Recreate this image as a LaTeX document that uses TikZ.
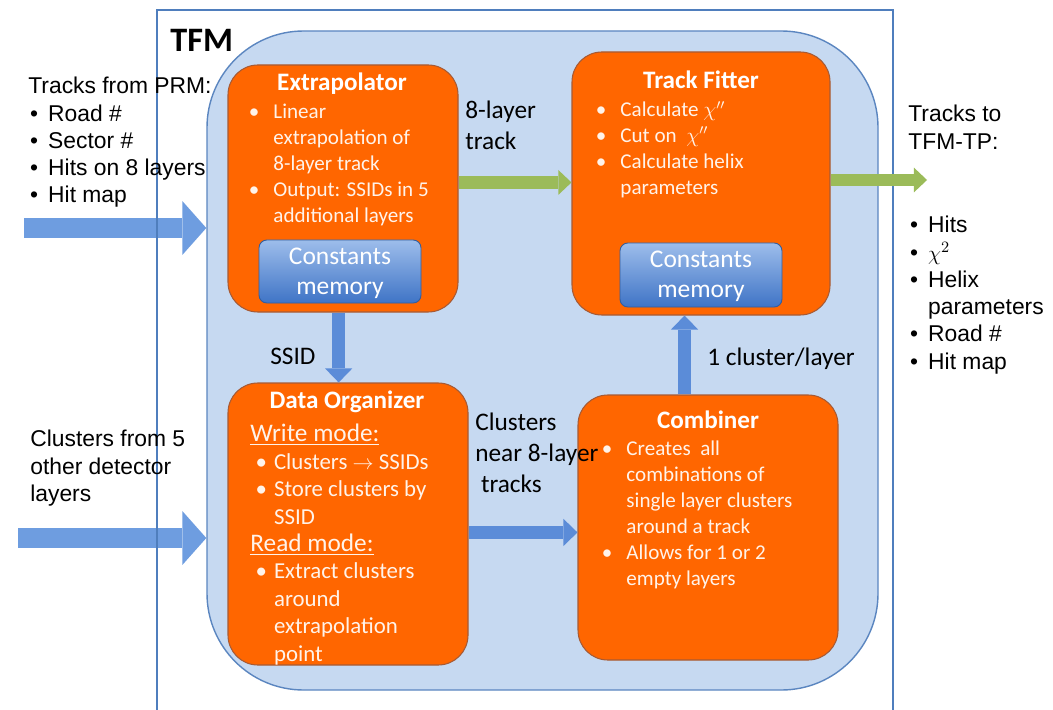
\documentclass[tikz,border=0pt]{standalone}
\usepackage{fontspec}
\setmainfont{Carlito}
\newfontfamily\arialfont{Liberation Sans}
\usetikzlibrary{arrows.meta,fit}

\definecolor{boxorange}{HTML}{FF6600}
\definecolor{boxedge}{HTML}{A65A35}
\definecolor{regionfill}{HTML}{C6D9F1}
\definecolor{regionedge}{HTML}{5B86C0}
\definecolor{framecol}{HTML}{4F7EBD}
\definecolor{arrowgreen}{HTML}{9BBB59}
\definecolor{bigblue}{HTML}{6E9DE0}
\definecolor{smallblue}{HTML}{5B8CD8}
\definecolor{memtop}{HTML}{9DBDEB}
\definecolor{membot}{HTML}{3F74C6}
\definecolor{bodywhite}{HTML}{FFF3EA}

\newcommand{\boxbul}{\makebox[12pt][l]{\hspace*{-2pt}\textbullet}}
\newcommand{\boxind}{\hspace*{12pt}}
\newcommand{\orgbul}{\hspace*{4pt}\makebox[9.5pt][l]{\hspace*{-1pt}\textbullet}}
\newcommand{\orgind}{\hspace*{13.5pt}}
\newcommand{\outbul}{\hspace*{1pt}\makebox[10.3pt][l]{\textbullet}}
\newcommand{\outind}{\hspace*{11.3pt}}

\tikzset{
  region/.style={draw=regionedge, fill=regionfill, line width=0.8pt, rounded corners=55pt, inner sep=0pt},
  procbox/.style={draw=boxedge, fill=boxorange, line width=0.6pt, rounded corners=17pt, inner sep=0pt},
  membox/.style={draw=membot!80!black, top color=memtop, bottom color=membot, line width=0.5pt, rounded corners=4.5pt, inner sep=0pt},
  titletext/.style={font=\bfseries\fontsize{14.3}{17}\selectfont, text=white, inner sep=0pt},
  bodytext/.style={font=\fontsize{12}{14.7}\selectfont, text=bodywhite, align=left, anchor=north west, inner sep=0pt},
  memtext/.style={font=\fontsize{14.5}{17}\selectfont, text=white, align=center, inner sep=0pt},
  labeltext/.style={font=\fontsize{14.4}{17.3}\selectfont, align=left, inner sep=0pt},
  outtext/.style={font=\arialfont\fontsize{13}{15.5}\selectfont, align=left, anchor=north west, inner sep=0pt},
  bigarrow/.style={line width=11.3pt, bigblue, -{Triangle[length=13.6pt, width=30.6pt, line width=0pt]}},
  bluearrow/.style={line width=7.6pt, smallblue, -{Triangle[length=8pt, width=15.5pt, line width=0pt]}},
  greenarrow/.style={line width=7.2pt, arrowgreen, -{Triangle[length=7.5pt, width=14.2pt, line width=0pt]}}
}

\begin{document}
\begin{tikzpicture}[x=0.02cm, y=-0.02cm]
  \useasboundingbox (0,0) rectangle (1053,709);
  \clip (0,0) rectangle (1053,709);
  \fill[white] (0,0) rectangle (1053,709);

  \node[region, fit={(207,31) (878,690)}] (tfm) {};

  \coordinate (prmin) at (24,228);
  \coordinate (clin) at (18,538);
  \draw[bigarrow] (prmin) -- (prmin -| tfm.west);
  \draw[bigarrow] (clin) -- (clin -| tfm.west);
  \draw[framecol, line width=1.4pt] (157,10) rectangle (893,740);

  \node[procbox, fit={(228,65) (458,312)}] (extra) {};
  \node[procbox, fit={(572,52) (830,315)}] (fitter) {};
  \node[procbox, fit={(228,383) (468,665)}] (org) {};
  \node[procbox, fit={(578,395) (838,660)}] (comb) {};
  \node[membox, fit={(259,240) (421,303)}] (meml) {};
  \node[membox, fit={(620,243) (782,307)}] (memr) {};

  \coordinate (tpout) at (927,180);
  \draw[greenarrow] (extra.3) -- (extra.3 -| fitter.west);
  \draw[greenarrow] (fitter.east |- tpout) -- (tpout);
  \draw[bluearrow] (extra.-92) -- (extra.-92 |- org.north);
  \draw[bluearrow] (org.-4) -- (org.-4 -| comb.west);
  \draw[bluearrow] (comb.100) -- (comb.100 |- fitter.south);

  \node[font=\bfseries\fontsize{19.5}{22}\selectfont, anchor=west, inner sep=0pt] (tfmlabel) at (170,40) {TFM};

  \node[titletext] (extratitle) at (342,84) {Extrapolator};
  \node[bodytext] (extrabody) at (252,104) {\boxbul Linear\\ \boxind extrapolation of\\ \boxind 8-layer track\\ \boxbul Output: SSIDs in 5\\ \boxind additional layers};
  \node[memtext] (memltext) at (340,273) {Constants\\memory};

  \node[titletext] (fittertitle) at (701,80) {Track Fitter};
  \node[bodytext] (fitterbody) at (599,101) {\boxbul Calculate $\chi''$\\ \boxbul Cut on\ \ $\chi''$\\ \boxbul Calculate helix\\ \boxind parameters};
  \node[memtext] (memrtext) at (701,276) {Constants\\memory};

  \node[titletext] (orgtitle) at (347,402) {Data Organizer};
  \node[bodytext, font=\fontsize{13}{15.6}\selectfont] (orgbody) at (250,424) {{\fontsize{14.4}{15.6}\selectfont\underline{Write mode:}}\\ \orgbul Clusters $\rightarrow$ SSIDs\\ \orgbul Store clusters by\\ \orgind SSID\\ {\fontsize{14.4}{15.6}\selectfont\underline{Read mode:}}\\ \orgbul Extract clusters\\ \orgind around\\ \orgind extrapolation\\ \orgind point};

  \node[titletext] (combtitle) at (708,420) {Combiner};
  \node[bodytext] (combbody) at (605,441) {\boxbul Creates\ \ all\\ \boxind combinations of\\ \boxind single layer clusters\\ \boxind around a track\\ \boxbul Allows for 1 or 2\\ \boxind empty layers};

  \node[labeltext, anchor=north west] (tracklabel) at (465,101) {8-layer\\track};
  \node[labeltext, anchor=west] (ssidlabel) at (270,356) {SSID};
  \node[labeltext, anchor=west] (clusterlabel) at (707,359) {1 cluster/layer};
  \node[labeltext, anchor=north west, font=\fontsize{14.4}{17.6}\selectfont] (nearlabel) at (475,413) {Clusters\\near 8-layer\\ \ tracks};

  \node[outtext] (prmtext) at (28,77) {Tracks from PRM:\\ \outbul Road \#\\ \outbul Sector \#\\ \outbul Hits on 8 layers\\ \outbul Hit map};
  \node[outtext] (cltext) at (30,430) {Clusters from 5\\other detector\\layers};
  \node[outtext] (tptext) at (908,105) {Tracks to\\TFM-TP:};
  \node[outtext] (tplist) at (908,216) {\outbul Hits\\ \outbul $\chi^{2}$\\ \outbul Helix\\ \outind parameters\\ \outbul Road \#\\ \outbul Hit map};
\end{tikzpicture}
\end{document}
